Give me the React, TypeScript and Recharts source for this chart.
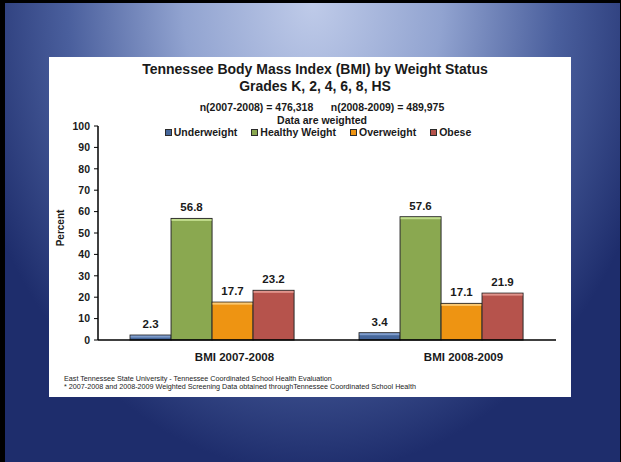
import React from 'react';
import { BarChart, Bar, XAxis, YAxis, LabelList } from 'recharts';

const categories = ['BMI 2007-2008', 'BMI 2008-2009'];
const underweight = [2.3, 3.4];
const healthyWeight = [56.8, 57.6];
const overweight = [17.7, 17.1];
const obese = [23.2, 21.9];
const yTicks = [0, 10, 20, 30, 40, 50, 60, 70, 80, 90, 100];

const seriesKeys = ['underweight', 'healthyWeight', 'overweight', 'obese'];
const seriesNames = ['Underweight', 'Healthy Weight', 'Overweight', 'Obese'];
const seriesColors = ['#46679b', '#8aa850', '#ee9412', '#b6534c'];
const seriesHighlights = ['#7f9dcc', '#c0dc8c', '#fbc870', '#e0938b'];

const data = categories.map((c, i) => ({
  category: c,
  underweight: underweight[i],
  healthyWeight: healthyWeight[i],
  overweight: overweight[i],
  obese: obese[i],
}));

const FONT = '"Liberation Sans", Arial, Helvetica, sans-serif';

const makeShape = (hl: string) => (props: any) => {
  const { x, y, width, height, fill } = props;
  if (!width || height == null) return null;
  return (
    <g>
      <rect x={x} y={y} width={width} height={height} fill={fill} stroke="#2b2b2b" strokeWidth={1} />
      <rect x={x + 0.5} y={y + 0.5} width={Math.max(0, width - 1)} height={Math.max(0, Math.min(2, height - 1))} fill={hl} />
    </g>
  );
};

const CatTick = (props: any) => {
  const { x, y, payload } = props;
  return (
    <text x={x + 22} y={y + 21} textAnchor="middle" fontFamily={FONT} fontWeight="bold" fontSize={11.5} fill="#1a1a1a">
      {payload.value}
    </text>
  );
};

const Line = ({ cx, cy, size, bold = true, children, color = '#1a1a1a' }: any) => (
  <div
    style={{
      position: 'absolute',
      left: cx - 300,
      width: 600,
      top: cy - size * 0.6,
      height: size * 1.2,
      lineHeight: `${size * 1.2}px`,
      fontSize: size,
      fontWeight: bold ? 'bold' : 'normal',
      textAlign: 'center',
      whiteSpace: 'pre',
      color,
      fontFamily: FONT,
    }}
  >
    {children}
  </div>
);

export default function App() {
  return (
    <div style={{ position: 'absolute', left: 0, top: 0, width: 621, height: 462, background: '#000', overflow: 'hidden' }}>
      <div
        style={{
          position: 'absolute',
          left: 5,
          top: 3,
          width: 615,
          height: 459,
          background:
            'radial-gradient(ellipse 360px 470px at 50% 0%, #bfcbe9 0%, #91a3d0 36%, #4a5f9d 68%, #1e2d6c 100%)',
        }}
      />
      <div style={{ position: 'absolute', left: 49, top: 57, width: 522, height: 340, background: '#fff' }} />

      <Line cx={315} cy={69} size={14}>Tennessee Body Mass Index (BMI) by Weight Status</Line>
      <Line cx={315} cy={86} size={14}>Grades K, 2, 4, 6, 8, HS</Line>
      <Line cx={322} cy={107} size={10.5}>{'n(2007-2008) = 476,318      n(2008-2009) = 489,975'}</Line>
      <Line cx={322} cy={120} size={10.5}>Data are weighted</Line>

      <div
        style={{
          position: 'absolute',
          left: 118,
          width: 400,
          top: 125,
          height: 14,
          display: 'flex',
          justifyContent: 'center',
          alignItems: 'center',
          gap: 14,
          fontFamily: FONT,
          fontWeight: 'bold',
          fontSize: 10.5,
          color: '#1a1a1a',
        }}
      >
        {seriesNames.map((n, i) => (
          <div key={n} style={{ display: 'flex', alignItems: 'center' }}>
            <span
              style={{
                display: 'inline-block',
                width: 5,
                height: 5,
                background: seriesColors[i],
                border: '1px solid #2b2b2b',
                marginRight: 2,
              }}
            />
            <span>{n}</span>
          </div>
        ))}
      </div>

      <div
        style={{
          position: 'absolute',
          left: 61 - 30,
          top: 228 - 7,
          width: 60,
          height: 14,
          lineHeight: '14px',
          textAlign: 'center',
          transform: 'rotate(-90deg)',
          fontFamily: FONT,
          fontWeight: 'bold',
          fontSize: 10,
          color: '#1a1a1a',
        }}
      >
        Percent
      </div>

      <div style={{ position: 'absolute', left: 0, top: 0 }}>
        <BarChart
          width={621}
          height={462}
          data={data}
          margin={{ top: 126, right: 65, bottom: 92, left: 48 }}
          barCategoryGap="14%"
          barGap={0}
        >
          <XAxis
            dataKey="category"
            height={30}
            tickLine={false}
            tickSize={0}
            tickMargin={0}
            axisLine={{ stroke: '#000', strokeWidth: 1.6 }}
            tick={<CatTick />}
          />
          <YAxis
            width={50}
            domain={[0, 100]}
            ticks={yTicks}
            interval={0}
            tickSize={4}
            tickMargin={4}
            tickLine={{ stroke: '#000' }}
            axisLine={{ stroke: '#000', strokeWidth: 1.5 }}
            tick={{ fontFamily: FONT, fontWeight: 'bold', fontSize: 10.5, fill: '#1a1a1a' }}
          />
          {seriesKeys.map((k, i) => (
            <Bar key={k} dataKey={k} name={seriesNames[i]} fill={seriesColors[i]} isAnimationActive={false} shape={makeShape(seriesHighlights[i])}>
              <LabelList dataKey={k} position="top" offset={7} style={{ fontFamily: FONT, fontWeight: 'bold', fontSize: 11.5, fill: '#1a1a1a' }} />
            </Bar>
          ))}
        </BarChart>
      </div>

      <div style={{ position: 'absolute', left: 64, top: 375, fontFamily: FONT, fontSize: 7.2, lineHeight: '8px', color: '#222', whiteSpace: 'pre' }}>
        East Tennessee State University - Tennessee Coordinated School Health Evaluation
      </div>
      <div style={{ position: 'absolute', left: 64, top: 383, fontFamily: FONT, fontSize: 7.2, lineHeight: '8px', color: '#222', whiteSpace: 'pre' }}>
        * 2007-2008 and 2008-2009 Weighted Screening Data obtained throughTennessee Coordinated School Health
      </div>
    </div>
  );
}
